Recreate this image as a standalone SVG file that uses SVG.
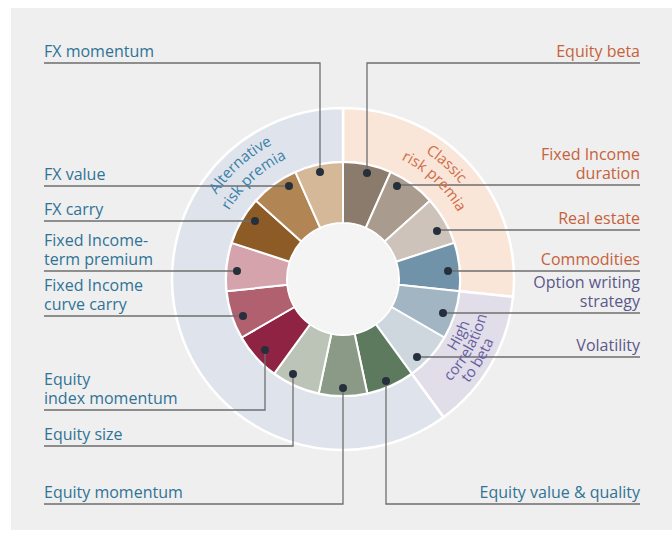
<svg xmlns="http://www.w3.org/2000/svg" xmlns:xlink="http://www.w3.org/1999/xlink" width="672" height="533" viewBox="0 0 672 533">
<style>
.lbl{font-family:"Open Sans","Liberation Sans",sans-serif;font-size:16px}
.alt{fill:#2f7396}
.cls{fill:#c6623b}
.hig{fill:#5b588a}
.arc{font-family:"Open Sans","Liberation Sans",sans-serif;font-size:15px}
.lead{fill:none;stroke:#6e6e6e;stroke-width:1.3}
.dot{fill:#26303c}
.seg{stroke:#ffffff;stroke-width:2}
.band{stroke:#ffffff;stroke-width:2.5}
</style>
<defs>
<path id="pAlt1" d="M 192.48 257.85 A 152 152 0 0 1 337.70 127.09"/>
<path id="pAlt2" d="M 211.29 260.58 A 133 133 0 0 1 338.36 146.08"/>
<path id="pCls1" d="M 348.26 128.09 A 151 151 0 0 1 492.53 258.08"/>
<path id="pCls2" d="M 349.96 146.18 A 133 133 0 0 1 475.01 262.79"/>
<path id="pHi1" d="M 397.50 401.42 A 134 134 0 0 0 473.02 246.58"/>
<path id="pHi2" d="M 396.22 417.63 A 148.5 148.5 0 0 0 488.77 250.66"/>
<path id="pHi3" d="M 396.07 433.12 A 163 163 0 0 0 503.99 253.50"/>
</defs>
<rect x="0" y="0" width="672" height="533" fill="#ffffff"/>
<rect x="11" y="8" width="661" height="522" fill="#efefef"/>

<g id="bands">
<path class="band" fill="#fae5d9" d="M 343 108 A 171 171 0 0 1 513.06 296.87 L 459.36 291.23 A 117 117 0 0 0 343 162 Z"/>
<path class="band" fill="#e1dde9" d="M 513.06 296.87 A 171 171 0 0 1 443.51 417.34 L 411.77 373.66 A 117 117 0 0 0 459.36 291.23 Z"/>
<path class="band" fill="#dfe4ec" d="M 443.51 417.34 A 171 171 0 1 1 343 108 L 343 162 A 117 117 0 1 0 411.77 373.66 Z"/>
</g>

<g id="segments">
<path id="seg-equity-beta" class="seg" fill="#8b7b6c" d="M 343 162 A 117 117 0 0 1 390.59 172.11 L 365.78 227.84 A 56 56 0 0 0 343 223 Z"/>
<path id="seg-fi-duration" class="seg" fill="#a99b8e" d="M 390.59 172.11 A 117 117 0 0 1 429.95 200.71 L 384.62 241.53 A 56 56 0 0 0 365.78 227.84 Z"/>
<path id="seg-real-estate" class="seg" fill="#cdc3ba" d="M 429.95 200.71 A 117 117 0 0 1 454.27 242.84 L 396.26 261.69 A 56 56 0 0 0 384.62 241.53 Z"/>
<path id="seg-commodities" class="seg" fill="#7193a9" d="M 454.27 242.84 A 117 117 0 0 1 459.36 291.23 L 398.69 284.85 A 56 56 0 0 0 396.26 261.69 Z"/>
<path id="seg-option" class="seg" fill="#a2b5c3" d="M 459.36 291.23 A 117 117 0 0 1 444.33 337.5 L 391.5 307 A 56 56 0 0 0 398.69 284.85 Z"/>
<path id="seg-volatility" class="seg" fill="#cfd7de" d="M 444.33 337.5 A 117 117 0 0 1 411.77 373.66 L 375.92 324.31 A 56 56 0 0 0 391.5 307 Z"/>
<path id="seg-eq-value" class="seg" fill="#5d7a5f" d="M 411.77 373.66 A 117 117 0 0 1 367.33 393.44 L 354.64 333.78 A 56 56 0 0 0 375.92 324.31 Z"/>
<path id="seg-eq-momentum" class="seg" fill="#8a9a87" d="M 367.33 393.44 A 117 117 0 0 1 318.67 393.44 L 331.36 333.78 A 56 56 0 0 0 354.64 333.78 Z"/>
<path id="seg-eq-size" class="seg" fill="#bcc3b7" d="M 318.67 393.44 A 117 117 0 0 1 274.23 373.66 L 310.08 324.31 A 56 56 0 0 0 331.36 333.78 Z"/>
<path id="seg-eq-index" class="seg" fill="#8f2343" d="M 274.23 373.66 A 117 117 0 0 1 241.67 337.5 L 294.5 307 A 56 56 0 0 0 310.08 324.31 Z"/>
<path id="seg-fi-curve" class="seg" fill="#b1606f" d="M 241.67 337.5 A 117 117 0 0 1 226.64 291.23 L 287.31 284.85 A 56 56 0 0 0 294.5 307 Z"/>
<path id="seg-fi-term" class="seg" fill="#d5a3ab" d="M 226.64 291.23 A 117 117 0 0 1 231.73 242.84 L 289.74 261.69 A 56 56 0 0 0 287.31 284.85 Z"/>
<path id="seg-fx-carry" class="seg" fill="#8c5b26" d="M 231.73 242.84 A 117 117 0 0 1 256.05 200.71 L 301.38 241.53 A 56 56 0 0 0 289.74 261.69 Z"/>
<path id="seg-fx-value" class="seg" fill="#b28554" d="M 256.05 200.71 A 117 117 0 0 1 295.41 172.11 L 320.22 227.84 A 56 56 0 0 0 301.38 241.53 Z"/>
<path id="seg-fx-momentum" class="seg" fill="#d5b897" d="M 295.41 172.11 A 117 117 0 0 1 343 162 L 343 223 A 56 56 0 0 0 320.22 227.84 Z"/>
<circle cx="343" cy="279" r="55" fill="#f4f4f4"/>
</g>

<g id="connectors">
<path class="lead" d="M 44 63 H 320 V 172"/>
<path class="lead" d="M 640 63 H 367 V 173"/>
<path class="lead" d="M 44 186 H 289"/>
<path class="lead" d="M 44 221 H 255"/>
<path class="lead" d="M 44 271 H 237"/>
<path class="lead" d="M 44 316 H 243"/>
<path class="lead" d="M 44 410 H 265 V 350"/>
<path class="lead" d="M 44 446 H 293 V 374"/>
<path class="lead" d="M 44 504 H 343 V 388"/>
<path class="lead" d="M 640 504 H 386 V 381"/>
<path class="lead" d="M 640 185 H 397"/>
<path class="lead" d="M 640 230 H 437"/>
<path class="lead" d="M 640 271 H 448"/>
<path class="lead" d="M 640 313 H 443"/>
<path class="lead" d="M 640 357 H 417"/>
</g>

<g id="dots">
<circle class="dot" cx="320" cy="172" r="4"/>
<circle class="dot" cx="367" cy="173" r="4"/>
<circle class="dot" cx="397" cy="186" r="4"/>
<circle class="dot" cx="437" cy="231" r="4"/>
<circle class="dot" cx="448" cy="271" r="4"/>
<circle class="dot" cx="443" cy="313" r="4"/>
<circle class="dot" cx="417" cy="357" r="4"/>
<circle class="dot" cx="386" cy="381" r="4"/>
<circle class="dot" cx="343" cy="388" r="4"/>
<circle class="dot" cx="293" cy="374" r="4"/>
<circle class="dot" cx="265" cy="350" r="4"/>
<circle class="dot" cx="243" cy="316" r="4"/>
<circle class="dot" cx="237" cy="271" r="4"/>
<circle class="dot" cx="255" cy="221" r="4"/>
<circle class="dot" cx="289" cy="186" r="4"/>
</g>

<g id="category-labels" class="arc">
<text fill="#3a80a8" text-anchor="middle"><textPath xlink:href="#pAlt1" href="#pAlt1" startOffset="50%">Alternative</textPath></text>
<text fill="#3a80a8" text-anchor="middle"><textPath xlink:href="#pAlt2" href="#pAlt2" startOffset="50%">risk premia</textPath></text>
<text fill="#cf6d47" text-anchor="middle"><textPath xlink:href="#pCls1" href="#pCls1" startOffset="50%">Classic</textPath></text>
<text fill="#cf6d47" text-anchor="middle"><textPath xlink:href="#pCls2" href="#pCls2" startOffset="50%">risk premia</textPath></text>
<text fill="#6660a0" text-anchor="middle"><textPath xlink:href="#pHi1" href="#pHi1" startOffset="50%">High</textPath></text>
<text fill="#6660a0" text-anchor="middle"><textPath xlink:href="#pHi2" href="#pHi2" startOffset="50%">correlation</textPath></text>
<text fill="#6660a0" text-anchor="middle"><textPath xlink:href="#pHi3" href="#pHi3" startOffset="50%">to beta</textPath></text>
</g>

<g id="label-fx-momentum"><text class="lbl alt" x="44" y="57">FX momentum</text></g>
<g id="label-fx-value"><text class="lbl alt" x="44" y="180">FX value</text></g>
<g id="label-fx-carry"><text class="lbl alt" x="44" y="215">FX carry</text></g>
<g id="label-fi-term"><text class="lbl alt" x="44" y="246">Fixed Income-</text><text class="lbl alt" x="44" y="265">term premium</text></g>
<g id="label-fi-curve"><text class="lbl alt" x="44" y="291">Fixed Income</text><text class="lbl alt" x="44" y="310">curve carry</text></g>
<g id="label-eq-index"><text class="lbl alt" x="44" y="385">Equity</text><text class="lbl alt" x="44" y="404">index momentum</text></g>
<g id="label-eq-size"><text class="lbl alt" x="44" y="440">Equity size</text></g>
<g id="label-eq-momentum"><text class="lbl alt" x="44" y="498">Equity momentum</text></g>
<g id="label-eq-value"><text class="lbl alt" x="640" y="498" text-anchor="end">Equity value &amp; quality</text></g>
<g id="label-eq-beta"><text class="lbl cls" x="640" y="57" text-anchor="end">Equity beta</text></g>
<g id="label-fi-duration"><text class="lbl cls" x="640" y="160" text-anchor="end">Fixed Income</text><text class="lbl cls" x="640" y="179" text-anchor="end">duration</text></g>
<g id="label-real-estate"><text class="lbl cls" x="640" y="224" text-anchor="end">Real estate</text></g>
<g id="label-commodities"><text class="lbl cls" x="640" y="265" text-anchor="end">Commodities</text></g>
<g id="label-option"><text class="lbl hig" x="640" y="288" text-anchor="end">Option writing</text><text class="lbl hig" x="640" y="307" text-anchor="end">strategy</text></g>
<g id="label-volatility"><text class="lbl hig" x="640" y="351" text-anchor="end">Volatility</text></g>
</svg>
